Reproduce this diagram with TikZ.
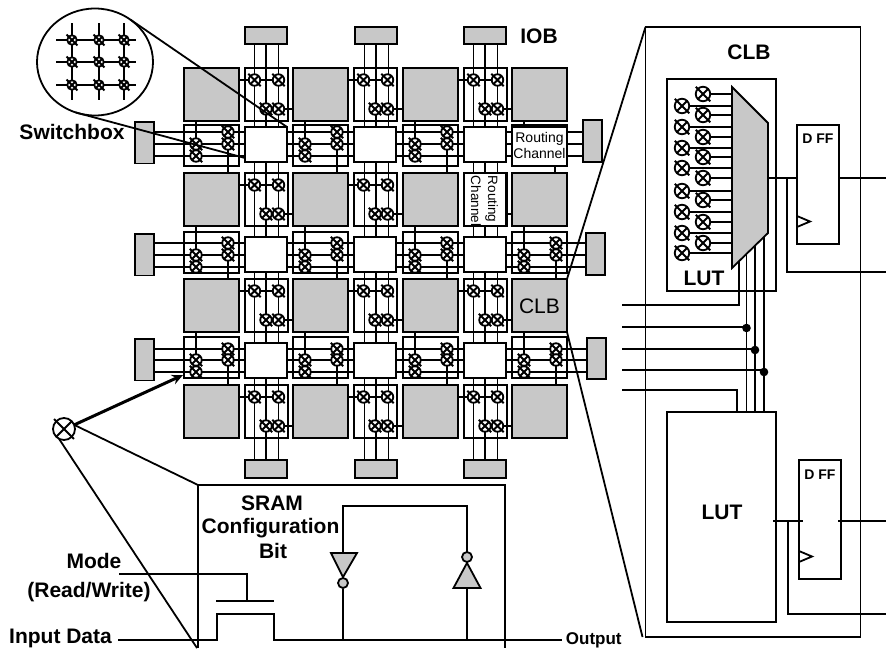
\documentclass[tikz,border=0pt]{standalone}
\usepackage{fontspec}
\setmainfont{Liberation Sans}
\usetikzlibrary{backgrounds,shapes.geometric,arrows.meta}
\definecolor{fpgagray}{HTML}{C8C8C8}
\tikzset{
  every on background layer/.style={line width=1.8pt},
  box/.style={draw,rectangle,inner sep=0pt,outer sep=0pt,anchor=north west},
  graybox/.style={box,fill=fpgagray},
  whitebox/.style={box,fill=white},
  swbase/.style={draw,circle,fill=white,inner sep=0pt,outer sep=0pt},
  swsmall/.style={swbase,minimum size=11.5pt},
  swtiny/.style={swbase,minimum size=9.5pt},
  swbig/.style={swbase,minimum size=14.5pt},
  swsym/.style={swbase,minimum size=22pt},
  txb/.style={font=\bfseries\fontsize{21}{21}\selectfont,inner sep=0pt,anchor=base},
  txdff/.style={font=\bfseries\fontsize{14}{14}\selectfont,inner sep=0pt,anchor=base},
  txo/.style={font=\bfseries\fontsize{17}{17}\selectfont,inner sep=0pt,anchor=base west},
  txr/.style={font=\fontsize{14}{14}\selectfont,inner sep=0pt,anchor=base},
  dot/.style={circle,fill=black,inner sep=0pt,minimum size=8.6pt},
  bubble/.style={draw,circle,fill=fpgagray,inner sep=0pt,minimum size=10pt},
  magcircle/.style={draw,ellipse,inner sep=0pt,outer sep=0pt,minimum width=116pt,minimum height=107pt},
  crossx/.style={shorten >=-3pt,shorten <=-3pt}
}
\newcommand{\swnode}[4][swsmall]{%
  \node[#1] (#2) at (#3,#4) {};
  \draw[crossx] (#2.45) -- (#2.225) (#2.135) -- (#2.315);
}
\begin{document}
\begin{tikzpicture}[x=1pt,y=-1pt,line width=1.8pt]
\useasboundingbox (0,0) rectangle (886,648);

% CLBs
\foreach \xx [count=\ci] in {184,293,403,512}
  \foreach \yy [count=\ri] in {68,173,279,385}
    \node[graybox,minimum width=55pt,minimum height=53pt] (C-\ci-\ri) at (\xx,\yy) {};

% Top / bottom IOBs
\foreach \xx [count=\ci] in {245,355,464} {
  \node[graybox,minimum width=42pt,minimum height=17pt] (T-\ci) at (\xx,27) {};
  \node[graybox,minimum width=42pt,minimum height=18pt] (B-\ci) at (\xx,460) {};
}
% Left / right IOBs
\foreach \yy [count=\ri] in {122,234,339}
  \node[graybox,minimum width=19pt,minimum height=41.5pt] (L-\ri) at (135,\yy) {};
\node[graybox,minimum width=19pt,minimum height=42pt] (R-1) at (583,120) {};
\node[graybox,minimum width=19pt,minimum height=42pt] (R-2) at (586,233) {};
\node[graybox,minimum width=19pt,minimum height=41pt] (R-3) at (587,338) {};

% Switch boxes
\foreach \xx [count=\ci] in {245,354,464}
  \foreach \yy [count=\ri] in {127,237,343}
    \node[whitebox,minimum width=42pt,minimum height=35pt] (S-\ci-\ri) at (\xx,\yy) {};

% Bus lines
\begin{scope}[on background layer]
\foreach \ci in {1,2,3}
  \foreach \sh in {9.5,21,33.5}
    \draw ([xshift=\sh pt]T-\ci.south west) -- ([xshift=\sh pt]B-\ci.north west);
\foreach \ri/\ya/\yb/\yc in {1/132/144/156,2/243/255/267,3/349/360/372}
  \foreach \yy in {\ya,\yb,\yc}
    \draw (L-\ri.east |- 0,\yy) -- (R-\ri.west |- 0,\yy);
\end{scope}

% Horizontal routing channels
\foreach \xx [count=\ci] in {184,293,403,512}
  \foreach \ri/\rr/\ya/\yb/\yc/\yt/\hh in {1/2/132/144/156/125/41,2/3/243/255/267/232/41,3/4/349/360/372/337/41} {
    \node[box,minimum width=55pt,minimum height=\hh pt] (H-\ci-\ri) at (\xx,\yt) {};
    \ifnum\numexpr10*\ci+\ri\relax=41 \else
      \swnode{ha-\ci-\ri}{\xx+12}{\yb}
      \swnode{hb-\ci-\ri}{\xx+12}{\yc}
      \swnode{hc-\ci-\ri}{\xx+44}{\ya}
      \swnode{hd-\ci-\ri}{\xx+44}{\yb}
      \begin{scope}[on background layer]
        \draw (C-\ci-\ri.south -| hb-\ci-\ri) -- (hb-\ci-\ri);
        \draw (hc-\ci-\ri) -- (C-\ci-\rr.north -| hc-\ci-\ri);
      \end{scope}
    \fi
  }

% Vertical routing channels
\foreach \xx/\ci/\cc in {245/1/2,354/2/3,464/3/4}
  \foreach \yy [count=\ri] in {68,173,279,385} {
    \node[box,minimum width=43pt,minimum height=53pt] (V-\ci-\ri) at (\xx,\yy) {};
    \ifnum\numexpr10*\ci+\ri\relax=32 \else
      \swnode{va-\ci-\ri}{\xx+9.5}{\yy+12}
      \swnode{vb-\ci-\ri}{\xx+33.5}{\yy+12}
      \swnode{vc-\ci-\ri}{\xx+21}{\yy+41}
      \swnode{vd-\ci-\ri}{\xx+33.5}{\yy+41}
      \begin{scope}[on background layer]
        \draw (C-\ci-\ri.east |- va-\ci-\ri) -- (vb-\ci-\ri);
        \draw (vd-\ci-\ri) -- (C-\cc-\ri.west |- vd-\ci-\ri);
      \end{scope}
    \fi
  }

% Labelled, empty channels
\node[whitebox,minimum width=55pt,minimum height=39pt] (RCh) at (512,127) {};
\node[whitebox,minimum width=42pt,minimum height=53pt] (RCv) at (464,173) {};
\begin{scope}[on background layer]
  \draw ([xshift=12pt]C-4-1.south west) -- ([xshift=12pt]RCh.north west);
  \draw ([xshift=43pt]RCh.south west) -- ([xshift=43pt]C-4-2.north west);
  \draw ([yshift=-41pt]RCv.north east) -- ([yshift=-41pt]C-3-2.north east -| C-4-2.west);
\end{scope}
\node[txr] (rt1) at (539.5,142) {Routing};
\node[txr] (rt2) at (539.5,158) {Channel};
\node[txr,font=\fontsize{13.5}{13.5}\selectfont,rotate=-90,anchor=base west] (rt3) at (488,175) {Routing};
\node[txr,font=\fontsize{13.5}{13.5}\selectfont,rotate=-90,anchor=base west] (rt4) at (471,175) {Channel};
\node[txb,font=\fontsize{21}{21}\selectfont] (clbl) at (539.5,313) {CLB};
\node[txb] (ioblbl) at (539,43) {IOB};

% Magnifier
\node[magcircle] (mag) at (95,62) {};
\foreach \yy [count=\ri] in {40,62,85}
  \foreach \xx [count=\ci] in {72,99,124} {
    \swnode[swtiny]{m-\ci-\ri}{\xx}{\yy}
  }
\begin{scope}[on background layer]
\foreach \ri in {1,2,3}
  \draw ([xshift=-16pt]m-1-\ri.center) -- ([xshift=12pt]m-3-\ri.center);
\foreach \ci in {1,2,3}
  \draw ([yshift=17pt]m-\ci-1.center) -- ([yshift=-15pt]m-\ci-3.center);
\end{scope}
\draw (mag.50) -- (S-1-1.north east);
\draw (mag.249) -- ([yshift=4pt]S-1-1.south west);
\node[txb] (swlbl) at (72,139) {Switchbox};

% CLB detail
\node[box,minimum width=215pt,minimum height=610pt] (big) at (645.5,27) {};
\draw (C-4-3.north east) -- (big.north west);
\draw (C-4-3.south east) -- ([xshift=-3pt]big.south west);
\node[txb] (clbtop) at (749,59) {CLB};

\node[box,minimum width=109pt,minimum height=212pt] (lut1) at (667,79) {};
\node[box,minimum width=109pt,minimum height=210pt] (lut2) at (667,412) {};
\node[txb] (lut1t) at (704,285) {LUT};
\node[txb] (lut2t) at (722,519) {LUT};

\coordinate (m1) at (732,87);
\coordinate (m2) at (768,123);
\coordinate (m3) at (768,233);
\coordinate (m4) at (732,268);
\draw[fill=fpgagray] (m1) -- (m2) -- (m3) -- (m4) -- cycle;

\foreach \yy [count=\ii] in {106,127,148,168,191,212,233,253} {
  \swnode[swbig]{ll-\ii}{682}{\yy}
  \begin{scope}[on background layer]\draw (ll-\ii) -- (ll-\ii -| m1);\end{scope}
}
\foreach \yy [count=\ii] in {94,115,137,157,178,200,222,243} {
  \swnode[swbig]{lr-\ii}{703}{\yy}
  \begin{scope}[on background layer]\draw (lr-\ii) -- (lr-\ii -| m1);\end{scope}
}

% D flip-flops
\node[box,minimum width=42pt,minimum height=119pt] (ff1) at (797,125) {};
\node[box,minimum width=42pt,minimum height=119pt] (ff2) at (799,460) {};
\node[txdff] (ff1t) at (818,143) {D FF};
\node[txdff] (ff2t) at (820,479) {D FF};
\draw (ff1.south west) ++(0,-28) coordinate (ck1a) -- ++(13,5.5) coordinate (ck1b) -- ++(-13,5.5);
\draw (ff2.south west) ++(0,-28) coordinate (ck2a) -- ++(13,5.5) coordinate (ck2b) -- ++(-13,5.5);

\coordinate (o1) at (767,178);
\coordinate (o2) at (773,521);
\coordinate (e1) at (886,178);
\coordinate (e2) at (886,272);
\coordinate (e3) at (886,521);
\coordinate (e4) at (886,614);
\coordinate (j1) at (787,178);
\coordinate (j2) at (788,521);
\draw (o1) -- (o1 -| ff1.west);
\draw (e1 -| ff1.east) -- (e1);
\draw (j1) |- (e2);
\draw (o2) -- ([xshift=4pt]o2 -| ff2.west);
\draw ([xshift=-3pt]e3 -| ff2.east) -- (e3);
\draw (j2) |- (e4);

% Select lines
\coordinate (in0) at (622,305);
\coordinate (in1) at (622,327);
\coordinate (in2) at (622,349);
\coordinate (in3) at (622,370);
\coordinate (in4) at (622,390);
\node[dot] (d1) at (746.5,328) {};
\node[dot] (d2) at (755,350) {};
\node[dot] (d3) at (764,372) {};
\draw (739,261) |- (in0);
\draw (in1) -- (in1 -| d1);
\draw (in2) -- (in2 -| d2);
\draw (in3) -- (in3 -| d3);
\draw (d1 |- 0,253) -- (d1 |- lut2.north);
\draw (d2 |- 0,245) -- (d2 |- lut2.north);
\draw (d3 |- 0,237) -- (d3 |- lut2.north);
\draw (in4) -| (737,412);

% Configuration switch symbol
\swnode[swsym]{sym}{64}{429}
\coordinate (sr1) at (198,648);
\coordinate (sr2) at (198,485);
\coordinate (sr3) at (505,485);
\coordinate (sr4) at (505,648);
\draw (sr1) -- (sr2) -- (sr3) -- (sr4);
\draw[line width=3pt,-{Stealth[length=11pt,width=10pt]}] (sym.22) -- ([yshift=3pt,xshift=-1pt]H-1-3.south west);
\draw (sym.22) -- (sr2);
\coordinate (sr5) at (197,648);
\draw (sym.243) -- (sr5);

% SRAM cell
\node[txb] (t1) at (272,510) {SRAM};
\node[txb] (t2) at (270.5,533) {Configuration};
\node[txb] (t3) at (273,558) {Bit};
\node[txb] (t4) at (94,568) {Mode};
\node[txb] (t5) at (89,597) {(Read/Write)};
\node[txb] (t6) at (60.5,643.5) {Input Data};
\node[txo] (t7) at (565,644.5) {Output};

\coordinate (g0) at (119,574);
\coordinate (g1) at (247,601);
\draw (g0) -| (g1);
\coordinate (g2) at (216,601);
\coordinate (g3) at (274,601);
\draw (g2) -- (g3);
\coordinate (ch0) at (118,640);
\coordinate (ch1) at (217,614);
\coordinate (ch2) at (274,614);
\coordinate (ch3) at (274,640);
\coordinate (ch4) at (562,640);
\draw (ch0) -| (ch1) -- (ch2) -- (ch3) -- (ch4);

\coordinate (ia) at (343,506);
\coordinate (ib) at (467,506);
\coordinate (ic) at (343,640);
\coordinate (id) at (467,640);
\node[bubble,fill=fpgagray] (bb1) at (343,583) {};
\node[bubble,fill=fpgagray] (bb2) at (467,557) {};
\begin{scope}[on background layer]
  \draw (bb1) -- (ic);
  \draw (bb1) -- (ia) -- (ib) -- (id);
\end{scope}
\draw[fill=fpgagray] (331,553) -- (357,553) -- (bb1.north) -- cycle;
\draw[fill=fpgagray] (453.5,588) -- (480.5,588) -- (bb2.south) -- cycle;
\end{tikzpicture}
\end{document}
